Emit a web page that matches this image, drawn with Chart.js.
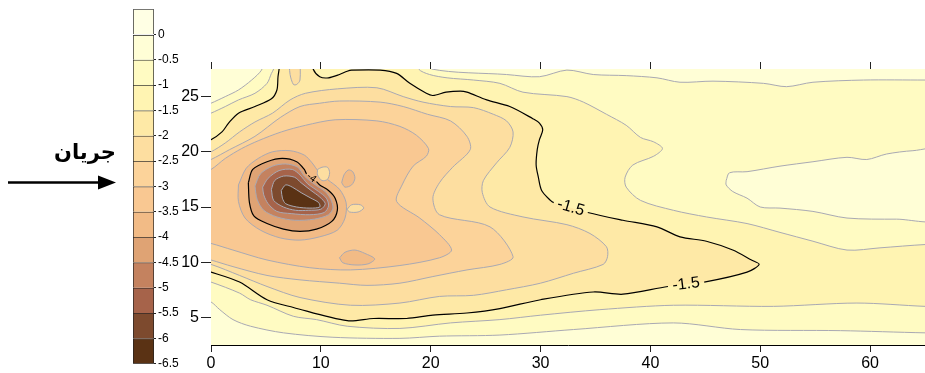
<!DOCTYPE html>
<html>
<head>
<meta charset="utf-8">
<script src="https://cdn.jsdelivr.net/npm/chart.js@4.4.1/dist/chart.umd.min.js"></script>
<style>
  body { margin: 0; background: #fff; }
  #wrap { position: relative; width: 925px; height: 373px; overflow: hidden; }
  canvas { position: absolute; top: 0; left: 0; }
  #flow { position: absolute; left: 49px; top: 140px; width: 72px; text-align: center;
          font: bold 21px "DejaVu Sans", sans-serif; direction: rtl; }
  #arrow { position: absolute; left: 0; top: 170px; }
</style>
</head>
<body>
<div id="wrap">
  <canvas id="plot" width="925" height="373"></canvas>
  <canvas id="scale" width="211" height="373"></canvas>
  <div id="flow">جریان</div>
  <svg id="arrow" width="120" height="26">
    <line x1="8" y1="12.5" x2="102" y2="12.5" stroke="#000" stroke-width="2.5"/>
    <polygon points="98,5.5 116,12.5 98,19.5" fill="#000"/>
  </svg>
</div>
<script>
// axis ticks
const xTicks = [0, 10, 20, 30, 40, 50, 60];
const yTicks = [5, 10, 15, 20, 25];

// colour scale: band i lies between barLevels[i] and barLevels[i + 1]
const barLevels = [0.5, 0, -0.5, -1, -1.5, -2, -2.5, -3, -3.5, -4, -4.5, -5, -5.5, -6, -6.5];
const barTicks = barLevels.slice(1);
const palette = ['#FFFFE4', '#FFFED6', '#FFFBC2', '#FFF4B2', '#FEE9A6', '#FDDEA0', '#FCD39A',
                 '#F9C892', '#F2BB86', '#DFA374', '#C4825F', '#A6634A', '#7D4A2E', '#5A3214'];

// contour outlines, [x, y]; each one closes round the area below its level
const contourM05 = [[-1.5,23.8],[0,24.4],[1.3,25.0],[2.5,25.6],[3.7,26.5],[4.6,27.4],[5.0,28.5],[20.0,28.5],
  [20.1,27.5],[26.9,27.0],[29.9,26.8],[32.4,27.4],[34.8,27.0],[37.8,26.9],[40.6,26.7],[42.7,26.3],[45.7,26.4],
  [50.3,26.2],[52.4,25.9],[54.8,26.3],[59.4,26.5],[65,26.5],[66.5,26.5],[66.5,3.6],[65,3.6],[57.3,3.8],
  [48.2,3.9],[42.1,4.5],[33.0,3.9],[26.3,3.4],[20.8,3.3],[17.2,3.1],[11.1,3.2],[6.6,3.6],[3.6,4.2],[2.0,4.8],
  [0.8,5.7],[0,6.4],[-1.5,7.0]];
const islandM05 = [[46.9,17.4],[47.2,18.1],[48.8,18.2],[51.8,18.7],[54.8,19.1],[57.9,19.5],[59.7,19.3],[61.5,19.8],
  [63.9,20.1],[66.5,20.1],[66.5,14.0],[62.4,13.9],[57.9,14.0],[54.8,14.6],[51.8,14.9],[50.0,15.0],[48.8,15.8],
  [47.5,16.4],[46.9,17.0],[46.9,17.4]];
const contourM10 = [[-1.5,22.9],[0,23.5],[1.3,24.1],[2.5,24.7],[4.0,25.3],[5.1,26.2],[5.5,27.1],[5.7,27.5],[5.8,28.5],
  [18.8,28.5],[18.9,27.5],[19.9,27.0],[21.5,26.7],[23.9,26.5],[26.3,26.2],[28.4,25.4],[32.4,25.0],[33.9,24.5],
  [36.0,23.4],[37.8,22.4],[39.1,21.3],[40.3,20.9],[41.1,20.3],[40.3,19.6],[38.4,18.8],[37.7,17.7],[37.8,16.8],
  [39.1,15.6],[42.1,14.7],[45.1,14.1],[48.8,13.5],[51.8,12.7],[54.8,11.9],[57.9,11.1],[60.9,11.3],[65,11.6],
  [66.5,11.6],[66.5,6.0],[65,6.0],[58.8,6.3],[51.2,6.0],[42.1,6.1],[35.4,5.7],[30.0,5.2],[26.3,4.8],[21.8,4.5],
  [17.2,4.0],[12.4,4.2],[9.6,4.8],[7.5,5.1],[5.1,6.1],[3.6,6.6],[2.6,7.2],[0,8.2],[-1.5,8.6]];
const contourM15 = [[-1.5,20.6],[0,21.1],[1.0,21.8],[1.6,22.6],[2.5,23.5],[4.0,24.1],[5.5,24.8],[6.0,25.6],[6.1,26.8],
  [6.2,27.5],[6.3,28.5],[9.2,28.5],[9.3,27.5],[9.9,26.8],[10.7,26.7],[11.7,27.0],[12.4,27.3],[12.8,27.4],[15.4,27.4],
  [16.9,27.1],[18.1,26.2],[19.6,25.3],[20.2,25.1],[21.4,25.4],[22.7,25.5],[23.3,25.4],[25.1,24.7],[27.2,24.1],
  [29.3,23.0],[29.9,22.6],[30.2,22.0],[29.9,21.1],[29.7,20.2],[29.6,18.8],[29.8,17.7],[30.1,16.5],[30.9,15.6],
  [31.2,15.4],[34.3,14.5],[37.5,13.8],[40.6,13.2],[42.7,12.3],[45.1,11.9],[47.5,11.1],[49.2,10.2],[49.9,9.8],
  [48.8,9.1],[44.9,8.2],[41.6,7.8],[37.5,7.1],[34.8,7.3],[30.0,6.6],[26.3,5.8],[23.3,5.4],[20.2,5.2],[17.8,4.9],
  [14.8,4.9],[12.4,4.7],[7.5,5.9],[5.1,6.6],[2.6,8.2],[0,9.1],[-1.5,9.5]];
const islandM20 = [[7.1,28.5],[7.2,27.0],[7.5,26.1],[7.8,26.1],[8.1,26.5],[8.1,28.5]];
const contourM20 = [[-1.5,19.4],[0,20.0],[1.3,20.8],[2.6,21.8],[4.0,22.7],[5.6,23.5],[7.2,24.7],[8.6,25.3],[11.5,25.7],
  [15.1,25.8],[17.5,25.0],[19.3,24.5],[21.8,24.1],[23.9,24.0],[25.7,23.4],[26.9,22.8],[27.5,21.8],[27.2,20.4],
  [26.0,19.0],[24.8,17.4],[24.7,16.3],[25.4,15.0],[28.4,14.1],[32.4,13.4],[34.5,12.6],[36.0,11.4],[36.1,10.5],
  [35.7,9.8],[33.0,9.0],[30.0,8.1],[26.9,7.5],[23.9,7.0],[20.8,6.9],[17.2,6.3],[12.7,6.1],[8.1,6.8],[5.1,7.8],
  [2.6,8.8],[0,9.8],[-1.5,10.1]];
const contourM25 = [[-1.5,18.7],[0,19.3],[1.7,20.2],[4.0,21.4],[6.3,23.1],[8.1,24.1],[9.9,24.4],[11.7,24.6],[15.4,24.5],
  [17.5,24.1],[19.7,23.4],[21.8,22.8],[23.3,21.4],[23.6,20.2],[22.0,18.6],[20.8,17.2],[20.2,15.8],[20.8,14.3],
  [25.4,13.2],[27.5,10.5],[26.3,9.8],[23.3,9.3],[20.2,8.7],[17.2,8.1],[14.2,7.9],[11.7,8.1],[8.1,8.4],[5.1,8.8],
  [2.0,9.6],[0,10.2],[-1.5,10.6]];
const contourM30 = [[-1.5,17.8],[0,18.4],[1.3,19.4],[2.8,20.3],[4.3,21.0],[6.4,21.8],[8.6,22.4],[11.3,22.9],[15.1,22.8],
  [17.2,22.3],[18.7,21.5],[19.8,20.3],[19.6,19.6],[18.4,18.7],[17.4,17.0],[16.9,15.5],[19.0,14.0],[20.8,12.5],
  [21.9,11.1],[20.8,10.4],[17.2,9.7],[12.7,9.3],[9.0,9.5],[5.1,10.2],[2.0,11.1],[0,11.7],[-1.5,12.0]];
const islandM35Low = [[11.7,10.4],[12.2,10.9],[13.1,11.1],[14.0,10.8],[14.9,10.3],[14.3,9.85],[13.1,9.75],[12.0,9.95],[11.7,10.4]];
const contourM35 = [[2.5,17.0],[3.2,18.5],[4.3,19.4],[5.6,20.0],[7.2,20.1],[8.5,19.7],[9.2,19.0],[9.8,18.2],[10.6,17.5],
  [11.7,16.6],[12.3,15.4],[12.2,14.0],[11.5,12.9],[9.9,12.3],[8.1,12.0],[6.3,12.2],[4.5,12.9],[3.1,14.0],[2.5,15.5],[2.5,17.0]];
const islandM35Side = [[11.9,17.2],[12.1,17.9],[12.5,18.35],[12.9,18.2],[13.1,17.6],[12.8,17.0],[12.2,16.8],[11.9,17.2]];
const islandM30A = [[9.7,18.4],[10.1,18.6],[10.6,18.6],[10.8,18.1],[10.6,17.5],[10.1,17.4],[9.7,17.9],[9.7,18.4]];
const islandM30B = [[12.4,14.8],[12.8,15.2],[13.6,15.2],[13.9,14.9],[13.4,14.55],[12.6,14.55],[12.4,14.8]];
const contourM40 = [[3.4,17.2],[3.8,18.4],[5.1,19.1],[6.5,19.4],[7.8,19.1],[8.5,18.4],[8.7,18.0],[9.6,17.3],[9.9,17.0],
  [10.7,16.5],[11.3,15.8],[11.5,14.7],[11.0,13.7],[9.6,13.0],[8.1,12.8],[6.6,13.0],[5.1,13.5],[3.9,14.2],[3.5,15.4],[3.4,17.2]];
const contourM45 = [[4.0,16.9],[4.5,18.0],[5.6,18.7],[6.8,18.9],[7.9,18.6],[8.5,17.8],[9.5,17.0],[10.4,16.4],[10.9,15.7],
  [11.1,14.9],[10.7,14.3],[9.4,13.9],[7.6,13.8],[6.0,14.1],[4.8,14.7],[4.2,15.7],[4.0,16.9]];
const contourM50 = [[4.7,16.8],[5.2,17.6],[6.2,18.3],[7.4,18.4],[8.1,17.9],[8.8,17.1],[9.8,16.4],[10.5,15.8],[10.7,15.1],
  [10.3,14.5],[9.0,14.3],[7.3,14.4],[6.0,14.6],[5.2,15.3],[4.8,16.1],[4.7,16.8]];
const contourM55 = [[5.5,16.6],[5.8,17.4],[6.6,17.8],[7.6,17.7],[8.2,17.2],[9.1,16.5],[9.9,15.9],[10.4,15.3],[10.0,14.8],
  [8.9,14.7],[7.7,14.7],[6.6,15.0],[5.7,15.6],[5.5,16.6]];
const contourM60 = [[6.4,16.5],[6.8,17.0],[7.4,16.8],[8.2,16.3],[9.1,15.8],[9.8,15.4],[9.9,15.0],[9.0,14.9],[7.8,15.0],
  [6.8,15.3],[6.5,15.8],[6.4,16.5]];

// inline labels sit in the gap between two outline points
const contourLabels = [
  { text: '-1.5', from: [31.2, 15.4], to: [34.3, 14.5], size: 16 },
  { text: '-1.5', from: [44.9, 8.2], to: [41.6, 7.8], size: 16 },
  { text: '-4', from: [8.7, 18.0], to: [9.6, 17.3], size: 10 }
];

const GRAY = '#A9A9B3';
const BLACK = '#000';
const layers = [
  [contourM05, 2, GRAY], [islandM05, 1, GRAY], [contourM10, 3, GRAY], [contourM15, 4, BLACK],
  [islandM20, 5, GRAY], [contourM20, 5, GRAY], [contourM25, 6, GRAY], [contourM30, 7, GRAY],
  [islandM35Low, 8, GRAY], [contourM35, 8, GRAY], [islandM35Side, 8, GRAY], [islandM30A, 5, GRAY],
  [islandM30B, 5, GRAY], [contourM40, 9, BLACK], [contourM45, 10, GRAY], [contourM50, 11, GRAY],
  [contourM55, 12, GRAY], [contourM60, 13, GRAY]
];

const fontFam = "'Liberation Sans', Arial, sans-serif";
const near = (p, q) => Math.abs(p.x - q[0]) < 1e-6 && Math.abs(p.y - q[1]) < 1e-6;

function inGap(c) {
  const d = c.chart.data.datasets[c.datasetIndex].data;
  const a = d[c.p0DataIndex], b = d[c.p1DataIndex];
  return contourLabels.some(l => (near(a, l.from) && near(b, l.to)) || (near(a, l.to) && near(b, l.from)));
}

const datasets = [];
layers.forEach(([pts, band, line]) => {
  const data = pts.map(([x, y]) => ({ x, y }));
  datasets.push({ data, fill: 'shape', backgroundColor: palette[band], borderColor: 'rgba(0,0,0,0)', borderWidth: 0 });
  datasets.push({ data, fill: false, borderColor: line, borderWidth: line === BLACK ? 1.2 : 1,
    segment: { borderColor: c => inGap(c) ? 'rgba(0,0,0,0)' : undefined } });
});
datasets.forEach((ds, i) => {
  ds.order = datasets.length - i;
  ds.pointRadius = 0;
  ds.pointHoverRadius = 0;
  ds.tension = 0.3;
  ds.clip = 0;
});

const areaFill = {
  id: 'areaFill',
  beforeDatasetsDraw(chart) {
    const { ctx, chartArea: a } = chart;
    ctx.save();
    ctx.fillStyle = palette[1];
    ctx.fillRect(a.left, a.top, a.right - a.left, a.bottom - a.top);
    ctx.restore();
  }
};

const contourText = {
  id: 'contourText',
  afterDatasetsDraw(chart) {
    const { ctx, scales: { x, y } } = chart;
    contourLabels.forEach(l => {
      const x0 = x.getPixelForValue(l.from[0]), y0 = y.getPixelForValue(l.from[1]);
      const x1 = x.getPixelForValue(l.to[0]), y1 = y.getPixelForValue(l.to[1]);
      let ang = Math.atan2(y1 - y0, x1 - x0);
      if (ang > Math.PI / 2) ang -= Math.PI;
      if (ang < -Math.PI / 2) ang += Math.PI;
      ctx.save();
      ctx.translate((x0 + x1) / 2, (y0 + y1) / 2);
      ctx.rotate(ang);
      ctx.font = l.size + 'px ' + fontFam;
      ctx.fillStyle = '#000';
      ctx.textAlign = 'center';
      ctx.textBaseline = 'middle';
      ctx.fillText(l.text, 0, 0);
      ctx.restore();
    });
  }
};

const tickFont = { family: fontFam, size: 16 };

new Chart(document.getElementById('plot'), {
  type: 'line',
  data: { datasets },
  options: {
    responsive: false,
    animation: false,
    devicePixelRatio: 1,
    layout: { padding: 0 },
    elements: { line: { capBezierPoints: false } },
    plugins: { legend: { display: false }, tooltip: { enabled: false } },
    scales: {
      x: {
        type: 'linear', position: 'bottom', min: 0, max: 65, z: 1,
        afterBuildTicks: s => { s.ticks = xTicks.map(v => ({ value: v })); },
        afterFit: s => { s.height = 28; },
        ticks: { color: '#000', font: tickFont, padding: 2, autoSkip: false, maxRotation: 0, callback: v => String(v) },
        grid: { drawOnChartArea: false, tickLength: 7, color: '#222' },
        border: { color: '#000', width: 1 }
      },
      xTop: {
        type: 'linear', position: 'top', min: 0, max: 65, z: 1,
        afterBuildTicks: s => { s.ticks = xTicks.map(v => ({ value: v })); },
        afterFit: s => { s.height = 69; },
        ticks: { display: false },
        grid: { drawOnChartArea: false, tickLength: 7, color: '#222' },
        border: { color: '#000', width: 1 }
      },
      y: {
        type: 'linear', position: 'left', min: 2.5, max: 27.5, z: 1,
        afterBuildTicks: s => { s.ticks = yTicks.map(v => ({ value: v })); },
        afterFit: s => { s.width = 211; },
        ticks: { color: '#000', font: tickFont, padding: 2, callback: v => String(v) },
        grid: { drawOnChartArea: false, tickLength: 10, color: '#222' },
        border: { color: '#000', width: 1 }
      }
    }
  },
  plugins: [areaFill, contourText]
});

// colour bar
new Chart(document.getElementById('scale'), {
  type: 'bar',
  data: {
    labels: [''],
    datasets: palette.map((c, i) => ({
      data: [[barLevels[i + 1], barLevels[i]]],
      backgroundColor: c,
      borderColor: '#222',
      borderWidth: { top: 1, left: 1, right: 1, bottom: i === palette.length - 1 ? 1 : 0 },
      borderSkipped: false,
      grouped: false,
      barPercentage: 1,
      categoryPercentage: 1
    }))
  },
  options: {
    responsive: false,
    animation: false,
    devicePixelRatio: 1,
    layout: { padding: { left: 133, top: 7, bottom: 5, right: 0 } },
    plugins: { legend: { display: false }, tooltip: { enabled: false } },
    scales: {
      x: { display: false },
      y: {
        position: 'right', min: -6.5, max: 0.5,
        afterBuildTicks: s => { s.ticks = barTicks.map(v => ({ value: v })); },
        afterFit: s => { s.width = 57; },
        ticks: { color: '#000', font: { family: fontFam, size: 12 }, padding: 2, callback: v => String(v) },
        grid: { drawOnChartArea: false, tickLength: 2, color: '#222' },
        border: { display: false }
      }
    }
  }
});
</script>
</body>
</html>
